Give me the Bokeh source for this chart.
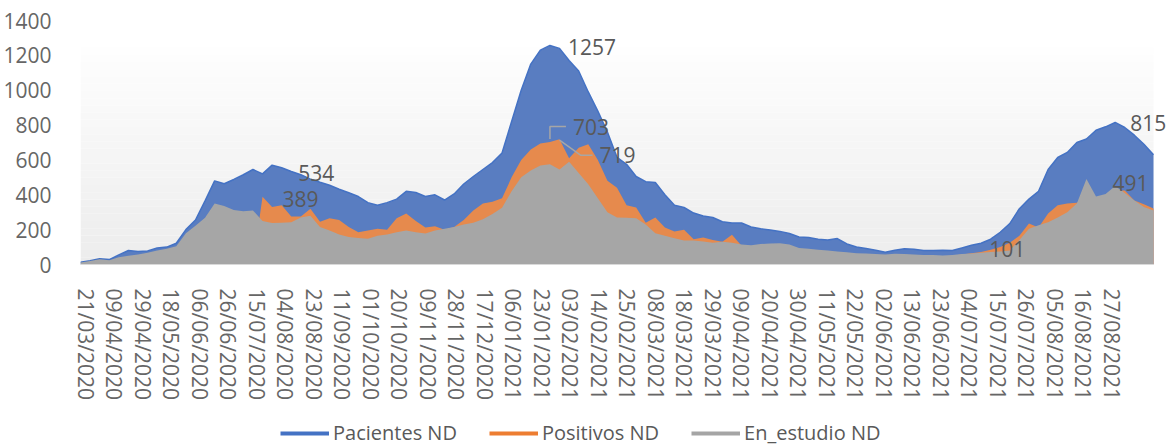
from bokeh.plotting import figure
from bokeh.layouts import column
from bokeh.models import Range1d, FixedTicker, Legend, LegendItem, BoxAnnotation, ColumnDataSource
from bokeh.embed import file_html
from bokeh.resources import INLINE
from bokeh.core.properties import value

# ---------------- data ----------------
tick_labels = [
    "21/03/2020", "09/04/2020", "29/04/2020", "18/05/2020", "06/06/2020", "26/06/2020",
    "15/07/2020", "04/08/2020", "23/08/2020", "11/09/2020", "01/10/2020", "20/10/2020",
    "09/11/2020", "28/11/2020", "17/12/2020", "06/01/2021", "23/01/2021", "03/02/2021",
    "14/02/2021", "25/02/2021", "08/03/2021", "18/03/2021", "29/03/2021", "09/04/2021",
    "20/04/2021", "30/04/2021", "11/05/2021", "22/05/2021", "02/06/2021", "13/06/2021",
    "23/06/2021", "04/07/2021", "15/07/2021", "26/07/2021", "05/08/2021", "16/08/2021",
    "27/08/2021",
]
# values, evenly spaced along the whole category axis
pacientes = [
    13, 22, 33, 28, 55, 80, 75, 78, 95, 100,
    122, 200, 255, 365, 480, 463, 488, 515, 545, 520,
    570, 555, 534, 515, 490, 472, 455, 432, 412, 390,
    355, 340, 355, 375, 420, 413, 390, 400, 370, 405,
    462, 505, 545, 585, 640, 820, 1000, 1150, 1230, 1257,
    1240, 1170, 1110, 990, 880, 760, 615, 575, 505, 475,
    470, 400, 340, 327, 295, 278, 270, 245, 238, 238,
    215, 205, 198, 190, 178, 158, 155, 145, 140, 149,
    118, 100, 92, 82, 70, 82, 90, 88, 80, 80,
    82, 80, 95, 110, 122, 145, 185, 235, 320, 375,
    420, 545, 614, 643, 700, 720, 770, 790, 815, 786,
    742, 690, 630,
]
positivos = [
    0, 0, 0, 0, 0, 0, 0, 0, 0, 0,
    0, 0, 0, 0, 0, 0, 0, 0, 0, 389,
    330, 340, 275, 275, 320, 245, 265, 255, 215, 185,
    195, 205, 200, 265, 293, 250, 212, 220, 200, 215,
    255, 310, 350, 360, 380, 500, 600, 660, 694, 703,
    719, 610, 670, 690, 600, 480, 440, 340, 327, 240,
    270, 212, 190, 200, 145, 155, 140, 130, 170, 108,
    100, 105, 110, 110, 105, 85, 80, 75, 72, 68,
    62, 58, 55, 52, 50, 54, 52, 50, 48, 48,
    46, 50, 58, 65, 72, 85, 101, 125, 165, 235,
    212, 293, 340, 350, 355, 385, 385, 400, 425, 425,
    367, 345, 321,
]
en_estudio = [
    12, 20, 30, 25, 42, 50, 58, 68, 80, 90,
    105, 180, 222, 268, 350, 335, 312, 305, 310, 250,
    238, 240, 242, 270, 280, 215, 195, 172, 158, 152,
    148, 165, 172, 185, 195, 185, 178, 195, 205, 215,
    230, 240, 260, 290, 325, 420, 500, 540, 568, 575,
    545, 590, 525, 460, 380, 300, 270, 268, 265, 230,
    180, 165, 150, 138, 138, 132, 125, 130, 125, 115,
    110, 118, 120, 122, 115, 95, 90, 85, 80, 75,
    70, 65, 63, 60, 58, 62, 60, 58, 55, 55,
    52, 55, 60, 63, 68, 72, 75, 80, 140, 205,
    225, 242, 270, 300, 350, 491, 390, 405, 450, 410,
    367, 330, 310,
]
series_names = ["Pacientes ND", "Positivos ND", "En_estudio ND"]

# ---------------- layout / style ----------------
FONT = "Open Sans"
FS = "21px"
LEG_FS = "20px"
TXT = "#595959"
AXT = "#666666"
BLUE, ORANGE, GRAY = "#4472C4", "#ED7D31", "#A5A5A5"
BLUE_FILL, ORANGE_FILL, GRAY_FILL = "#597DC1", "#E68A4D", "#A6A6A6"

W, H = 1173, 410          # main chart
LEG_H = 38                # legend strip below it
BL, BR, BT, BB = 80, 3, 20, 146
frame_w = W - BL - BR     # frame is a bit wider than the data so end labels are not clipped
frame_h = H - BT - BB
AREA_W = 1073             # pixel width of the drawn plot area
TICK_PX = 28.5
X0 = -5.0 / TICK_PX
X1 = X0 + frame_w / TICK_PX
XD = X0 + AREA_W / TICK_PX
Y0, Y1 = 0, 1400
xpx = (X1 - X0) / frame_w   # data units per pixel
ypx = (Y1 - Y0) / frame_h

n = len(pacientes)
x = [X0 + (XD - X0) * i / (n - 1) for i in range(n)]
src = ColumnDataSource(dict(x=x, pac=pacientes, pos=positivos, est=en_estudio))

p = figure(width=W, height=H, output_backend="svg", toolbar_location=None,
           x_range=Range1d(X0, X1), y_range=Range1d(Y0, Y1),
           min_border_left=BL, min_border_right=BR, min_border_top=BT, min_border_bottom=BB)
p.outline_line_color = None
p.background_fill_color = "white"
p.border_fill_color = "white"
p.xgrid.visible = False
p.ygrid.visible = False

# gradient plot-area background (white at top -> light gray at bottom)
n_strips = 30
g_top = 1245.0
for k in range(n_strips):
    b = g_top * k / n_strips
    t = g_top * (k + 1) / n_strips
    f = (k + 0.5) / n_strips
    c = int(round(236 + (254 - 236) * f))
    p.add_layout(BoxAnnotation(bottom=b, top=t, left=X0, right=XD, fill_color=(c, c, c),
                               fill_alpha=1.0, line_alpha=0, level="underlay"))

# areas (overlapping, not stacked)
p.varea(x="x", y1=0, y2="pac", source=src, fill_color=BLUE_FILL, fill_alpha=1)
p.line(x="x", y="pac", source=src, line_color=BLUE, line_width=1.5)
p.varea(x="x", y1=0, y2="pos", source=src, fill_color=ORANGE_FILL, fill_alpha=1)
p.varea(x="x", y1=0, y2="est", source=src, fill_color=GRAY_FILL, fill_alpha=1)

# axes
p.yaxis.ticker = FixedTicker(ticks=list(range(0, 1401, 200)))
p.yaxis.axis_line_color = None
p.yaxis.major_tick_line_color = None
p.yaxis.minor_tick_line_color = None
p.yaxis.major_label_standoff = 23
p.yaxis.major_label_text_font = FONT
p.yaxis.major_label_text_font_size = FS
p.yaxis.major_label_text_color = AXT

p.xaxis.ticker = FixedTicker(ticks=list(range(len(tick_labels))))
p.xaxis.major_label_overrides = {i: lab for i, lab in enumerate(tick_labels)}
p.xaxis.major_label_orientation = "vertical"
p.xaxis.bounds = (X0, XD)
p.xaxis.axis_line_color = "#D9D9D9"
p.xaxis.major_tick_line_color = None
p.xaxis.minor_tick_line_color = None
p.xaxis.major_label_standoff = 18
p.xaxis.major_label_text_font = FONT
p.xaxis.major_label_text_font_size = FS
p.xaxis.major_label_text_color = AXT

# data labels: (series, index, x offset px, y offset px)
series_by_name = {"pac": pacientes, "pos": positivos, "est": en_estudio}
label_specs = [
    ("pac", 49, 18, 2),
    ("pac", 22, 7, 2),
    ("pos", 19, 20, 2),
    ("pos", 49, 23, -15),
    ("pos", 50, 40, 16),
    ("pac", 108, 15, 1),
    ("est", 105, 26, 4),
    ("pos", 96, -11, 2),
]
lab_src = ColumnDataSource(dict(
    x=[x[i] for _, i, _, _ in label_specs],
    y=[series_by_name[s][i] for s, i, _, _ in label_specs],
    text=[str(series_by_name[s][i]) for s, i, _, _ in label_specs],
    xo=[dx for _, _, dx, _ in label_specs],
    yo=[dy for _, _, _, dy in label_specs],
))
p.text(x="x", y="y", text="text", x_offset="xo", y_offset="yo", source=lab_src,
       text_font=value(FONT), text_font_size=FS, text_color=TXT,
       text_align="left", text_baseline="middle")

# leader lines for the two crowded labels
xa, ya = x[49], positivos[49]
p.line([xa, xa, xa + 16 * xpx], [ya + 3 * ypx, ya + 15.5 * ypx, ya + 15.5 * ypx],
       line_color="#A6A6A6", line_width=1.5)
xb, yb = x[50], positivos[50]
p.line([xb, xb + 21 * xpx, xb + 33 * xpx], [yb - 1 * ypx, yb - 16 * ypx, yb - 16 * ypx],
       line_color="#A6A6A6", line_width=1.5)

# ---------------- legend strip ----------------
# the strip's frame is aligned with the chart's frame (starts at x=80)
lg = figure(width=W, height=LEG_H, output_backend="svg", toolbar_location=None,
            x_range=Range1d(X0, X1), y_range=Range1d(-2, -1),
            x_axis_location=None, y_axis_location=None,
            min_border_left=BL, min_border_right=BR, min_border_top=0, min_border_bottom=0)
lg.outline_line_color = None
lg.background_fill_alpha = 0
lg.border_fill_color = "white"
lg.xgrid.visible = False
lg.ygrid.visible = False
# legend swatches: the same series, drawn outside this strip's visible range
proxy = [
    lg.line(x="x", y="pac", source=src, line_color=BLUE, line_width=4),
    lg.line(x="x", y="pos", source=src, line_color=ORANGE, line_width=4),
    lg.line(x="x", y="est", source=src, line_color=GRAY, line_width=4),
]
legend = Legend(items=[LegendItem(label=nm, renderers=[r]) for nm, r in zip(series_names, proxy)],
                orientation="horizontal", location=(200, 2))
legend.label_text_font = FONT
legend.label_text_font_size = LEG_FS
legend.label_text_color = TXT
legend.glyph_width = 49
legend.glyph_height = 20
legend.label_height = 20
legend.label_standoff = 4
legend.spacing = 32
legend.padding = 0
legend.margin = 0
legend.border_line_color = None
legend.background_fill_alpha = 0
lg.add_layout(legend, "center")

page = column(p, lg, spacing=0)
open("out.html", "w").write(file_html(page, INLINE))
